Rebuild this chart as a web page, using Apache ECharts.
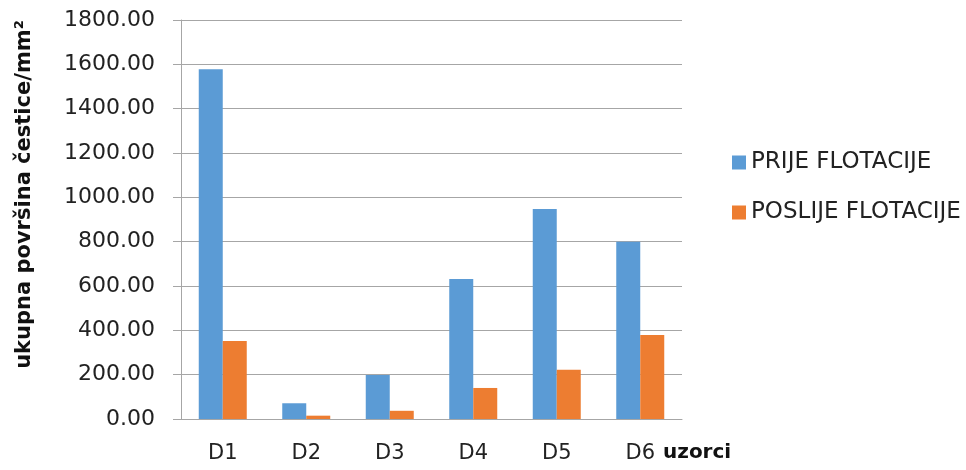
<!DOCTYPE html>
<html>
<head>
<meta charset="utf-8">
<script src="https://cdn.jsdelivr.net/npm/echarts@6/dist/echarts.min.js"></script>
<style>
  html, body { margin: 0; padding: 0; background: #fff; }
  #chart { width: 966px; height: 470px; }
</style>
</head>
<body>
<div id="chart"></div>
<script>
// uzorci i vrijednosti
var categories = ['D1', 'D2', 'D3', 'D4', 'D5', 'D6'];
var prijeFlotacije = [1578, 71, 198, 632, 947, 800];
var poslijeFlotacije = [352, 15, 37, 140, 222, 379];
var seriesNames = ['PRIJE FLOTACIJE', 'POSLIJE FLOTACIJE'];

var chart = echarts.init(document.getElementById('chart'));
var font = 'DejaVu Sans';

var option = {
  animation: false,
  backgroundColor: '#fff',
  grid: { left: 181, right: 284, top: 20, bottom: 51, outerBoundsMode: 'none' },
  legend: {
    orient: 'vertical',
    left: 727,
    top: 146,
    itemWidth: 14,
    itemHeight: 14,
    itemGap: 27,
    icon: 'rect',
    textStyle: { fontFamily: font, fontSize: 23, color: '#222' },
    data: seriesNames
  },
  xAxis: {
    type: 'category',
    data: categories,
    name: 'uzorci',
    nameLocation: 'end',
    nameGap: -19,
    nameTextStyle: {
      fontFamily: font, fontSize: 20, fontWeight: 'bold', color: '#111',
      verticalAlign: 'top', lineHeight: 68
    },
    axisLine: { lineStyle: { color: '#a6a6a6', width: 1 } },
    axisTick: { length: 8, lineStyle: { color: '#a6a6a6' } },
    axisLabel: { fontFamily: font, fontSize: 21, color: '#222', margin: 24 }
  },
  yAxis: {
    type: 'value',
    min: 0,
    max: 1800,
    interval: 200,
    name: 'ukupna površina čestice/mm²',
    nameLocation: 'middle',
    nameGap: 146,
    nameTextStyle: {
      fontFamily: font, fontSize: 21, fontWeight: 'bold', color: '#111',
      padding: [0, 0, 0, 50]
    },
    axisLine: { show: true, lineStyle: { color: '#a6a6a6', width: 1 } },
    axisTick: { show: true, length: 8, lineStyle: { color: '#a6a6a6' } },
    splitLine: { lineStyle: { color: '#a6a6a6', width: 1 } },
    axisLabel: {
      fontFamily: font, fontSize: 22, color: '#222', margin: 26,
      formatter: function (v) { return v.toFixed(2); }
    }
  },
  series: [
    {
      name: seriesNames[0],
      type: 'bar',
      data: prijeFlotacije,
      barWidth: 24,
      barGap: '0%',
      itemStyle: { color: '#5B9BD5' }
    },
    {
      name: seriesNames[1],
      type: 'bar',
      data: poslijeFlotacije,
      barWidth: 24,
      barGap: '0%',
      itemStyle: { color: '#ED7D31' }
    }
  ]
};

chart.setOption(option);
</script>
</body>
</html>
